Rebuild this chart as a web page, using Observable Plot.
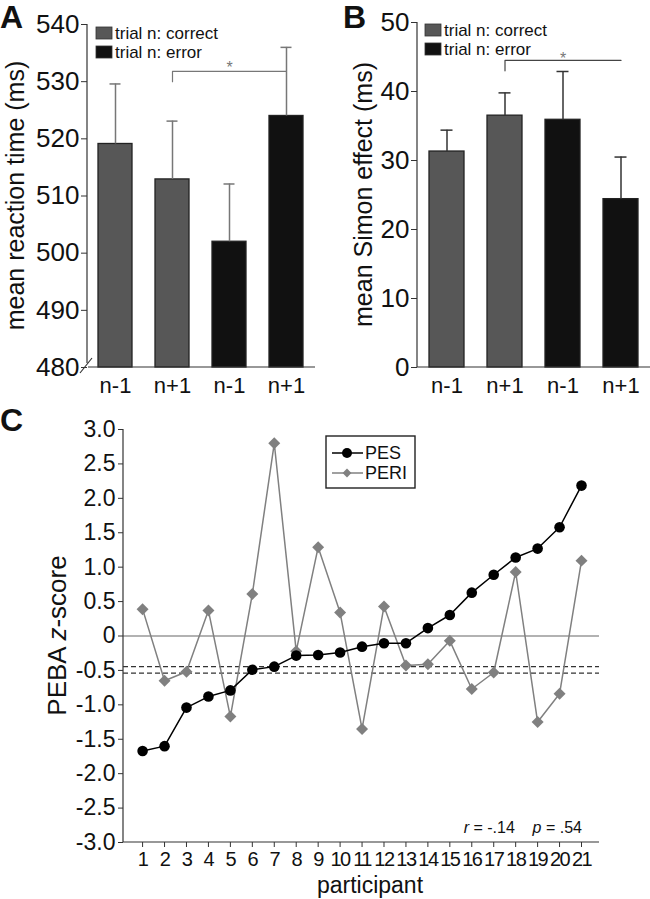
<!DOCTYPE html>
<html><head><meta charset="utf-8">
<script src="https://cdn.jsdelivr.net/npm/d3@7"></script>
<script src="https://cdn.jsdelivr.net/npm/@observablehq/plot@0.6"></script>
<style>
body{margin:0;background:#fff;}
#wrap{position:relative;width:650px;height:899px;font-family:"Liberation Sans",Arial,Helvetica,sans-serif;color:#111;}
.panel{position:absolute;}
.lab{position:absolute;font-weight:bold;font-size:32px;line-height:1;}
</style></head><body>
<div id="wrap">
  <div id="pa" class="panel" style="left:0;top:0"></div>
  <div id="pb" class="panel" style="left:330px;top:0"></div>
  <div id="pc" class="panel" style="left:0;top:400px"></div>
  <div class="lab" style="left:0;top:1px">A</div>
  <div class="lab" style="left:343px;top:1px">B</div>
  <div class="lab" style="left:0;top:404px">C</div>
</div>
<script>
// ---------- data ----------
const conditions = ["c1", "c2", "e1", "e2"];
const conditionLabels = ["n-1", "n+1", "n-1", "n+1"];
const conditionGroups = ["correct", "correct", "error", "error"];
const legendLabels = ["trial n: correct", "trial n: error"];

const rtMeans = [519.1, 512.9, 502.0, 524.0];
const rtErrors = [10.5, 10.2, 10.1, 12.0];
const rtTicks = [480, 490, 500, 510, 520, 530, 540];

const simonMeans = [31.3, 36.5, 35.9, 24.4];
const simonErrors = [3.1, 3.3, 7.0, 6.1];
const simonTicks = [0, 10, 20, 30, 40, 50];

const participants = [1,2,3,4,5,6,7,8,9,10,11,12,13,14,15,16,17,18,19,20,21];
const pes = [-1.67, -1.60, -1.04, -0.88, -0.79, -0.49, -0.445, -0.285, -0.275, -0.24, -0.155, -0.105, -0.105, 0.115, 0.305, 0.63, 0.89, 1.14, 1.27, 1.58, 2.185];
const peri = [0.39, -0.65, -0.52, 0.37, -1.17, 0.61, 2.80, -0.22, 1.29, 0.34, -1.35, 0.43, -0.43, -0.41, -0.07, -0.77, -0.53, 0.93, -1.25, -0.84, 1.095];
const thresholds = [-0.445, -0.54];
const zTicks = [-3, -2.5, -2, -1.5, -1, -0.5, 0, 0.5, 1, 1.5, 2, 2.5, 3];
const seriesNames = ["PES", "PERI"];
const stats = {r: "-.14", p: ".54"};

// significance brackets
const bracketA = {from: "c2", to: "e2", level: 531.8, drop: 530.0, star: "e1", starLevel: 532.4};
const bracketB = {from: "c2", to: "e2", level: 44.5, drop: 43.0, star: "e1", starLevel: 44.8};

// ---------- helpers ----------
const FONT = '"Liberation Sans", Arial, Helvetica, sans-serif';
const groupColors = {correct: "#575757", error: "#111111"};

function rows(means, errs) {
  return conditions.map((c, i) => ({cond: c, mean: means[i], err: errs[i], group: conditionGroups[i]}));
}

function frameLines(opts = {}) {
  return (index, scales, values, dims) => {
    const g = d3.create("svg:g").attr("stroke", "#333").attr("stroke-width", 1.2);
    const l = dims.marginLeft, r = dims.width - dims.marginRight;
    const t = dims.marginTop, b = dims.height - dims.marginBottom;
    g.append("line").attr("x1", l).attr("x2", l).attr("y1", t).attr("y2", opts.break ? b - 4 : b);
    g.append("line").attr("x1", opts.break ? l + 1 : l).attr("x2", r).attr("y1", b).attr("y2", b);
    if (opts.break) {
      g.append("line").attr("x1", l - 7).attr("y1", b + 6).attr("x2", l + 5).attr("y2", b - 9);
    }
    return g.node();
  };
}

function yLabel(parts, cx, size) {
  return (index, scales, values, dims) => {
    const cy = (dims.marginTop + dims.height - dims.marginBottom) / 2;
    const t = d3.create("svg:text")
      .attr("transform", `translate(${cx},${cy}) rotate(-90)`)
      .attr("text-anchor", "middle").attr("dy", "0.35em")
      .attr("font-size", size).attr("fill", "#111").attr("font-family", FONT);
    parts.forEach(p => t.append("tspan").attr("font-style", p.italic ? "italic" : null).text(p.text));
    return t.node();
  };
}

function barLegend(x0, y0) {
  return (index, scales, values, dims) => {
    const g = d3.create("svg:g").attr("font-family", FONT).attr("text-anchor", "start");
    ["correct", "error"].forEach((grp, i) => {
      const x = dims.marginLeft + x0, y = dims.marginTop + y0 + i * 19;
      g.append("rect").attr("x", x).attr("y", y).attr("width", 16).attr("height", 12)
        .attr("fill", scales.color(grp)).attr("stroke", "#333").attr("stroke-width", 0.8);
      g.append("text").attr("x", x + 19).attr("y", y + 6).attr("dy", "0.35em")
        .attr("text-anchor", "start")
        .attr("font-size", 17).attr("fill", "#111").text(legendLabels[i]);
    });
    return g.node();
  };
}

function barPanel(el, data, ticks, bracket, opts) {
  const yMin = ticks[0];
  const yMax = ticks[ticks.length - 1];
  const bracketPts = [
    {cond: bracket.from, v: bracket.drop},
    {cond: bracket.from, v: bracket.level},
    {cond: bracket.to, v: bracket.level}
  ];
  const chart = Plot.plot({
    width: opts.width, height: 400,
    marginLeft: 87, marginRight: opts.marginRight, marginTop: opts.marginTop, marginBottom: 33,
    style: {fontFamily: FONT, background: "transparent", overflow: "visible"},
    x: {domain: conditions, paddingOuter: 0.2, paddingInner: 0.4, axis: null},
    y: {domain: [yMin, yMax], axis: null},
    color: {domain: ["correct", "error"], range: [groupColors.correct, groupColors.error]},
    marks: [
      Plot.barY(data, {x: "cond", y1: () => yMin, y2: "mean", fill: "group", stroke: "#222", strokeWidth: 1.3}),
      Plot.ruleX(data, {x: "cond", y1: "mean", y2: d => d.mean + d.err, stroke: opts.errColor, strokeWidth: 1.5}),
      Plot.tickY(data, {x: "cond", y: d => d.mean + d.err, stroke: opts.errColor, strokeWidth: 1.5, insetLeft: 11.5, insetRight: 11.5}),
      Plot.line(bracketPts, {x: "cond", y: "v", stroke: opts.bracketColor, strokeWidth: 1.2}),
      Plot.text([bracket], {x: "star", y: "starLevel", text: () => "*", fontSize: 16, fill: "#777"}),
      frameLines({break: opts.break}),
      Plot.axisY({ticks, tickSize: 6, tickPadding: 2, fontSize: 26, stroke: "#333", fill: "#111", label: null, tickFormat: d => String(d)}),
      Plot.axisX({tickSize: 0, tickPadding: 10, fontSize: 22, fill: "#111", label: null,
        tickFormat: d => conditionLabels[conditions.indexOf(d)]}),
      yLabel([{text: opts.ylabel}], opts.labelX, 25),
      barLegend(opts.legendX, opts.legendY)
    ]
  });
  el.appendChild(chart);
}

barPanel(document.getElementById("pa"), rows(rtMeans, rtErrors), rtTicks, bracketA,
  {width: 325, marginRight: 10, marginTop: 24, errColor: "#777", bracketColor: "#777", break: true,
   ylabel: "mean reaction time (ms)", labelX: 15, legendX: 9, legendY: 3});
barPanel(document.getElementById("pb"), rows(simonMeans, simonErrors), simonTicks, bracketB,
  {width: 320, marginRight: 0, marginTop: 22, errColor: "#333", bracketColor: "#444", break: false,
   ylabel: "mean Simon effect (ms)", labelX: 33, legendX: 8, legendY: 2});

// ---------- panel C ----------
const cData = participants.map((p, i) => ({p, pes: pes[i], peri: peri[i]}));

function seriesLegend() {
  return (index, scales, values, dims) => {
    const g = d3.create("svg:g").attr("font-family", FONT).attr("text-anchor", "start");
    const x = dims.marginLeft + 203, y = dims.marginTop + 7;
    g.append("rect").attr("x", x).attr("y", y).attr("width", 89).attr("height", 52)
      .attr("fill", "#fff").attr("stroke", "#222").attr("stroke-width", 1.4);
    const specs = [
      {name: seriesNames[0], color: "#000", sym: d3.symbolCircle, size: Math.PI * 25},
      {name: seriesNames[1], color: "#808080", sym: d3.symbolDiamond2, size: Math.PI * 16}
    ];
    specs.forEach((s, i) => {
      const yy = y + 17 + i * 20;
      g.append("line").attr("x1", x + 6).attr("x2", x + 37).attr("y1", yy).attr("y2", yy)
        .attr("stroke", s.color).attr("stroke-width", 1.5);
      g.append("path").attr("transform", `translate(${x + 21},${yy})`)
        .attr("d", d3.symbol(s.sym, s.size)()).attr("fill", s.color);
      g.append("text").attr("x", x + 39).attr("y", yy).attr("dy", "0.35em")
        .attr("text-anchor", "start")
        .attr("font-size", 18).attr("fill", "#111").text(s.name);
    });
    return g.node();
  };
}

function statsNote() {
  return (index, scales, values, dims) => {
    const t = d3.create("svg:text").attr("font-family", FONT).attr("font-size", 16).attr("fill", "#111")
      .attr("text-anchor", "end").attr("style", "white-space:pre")
      .attr("x", dims.width - dims.marginRight - 17).attr("y", dims.height - dims.marginBottom - 9);
    t.append("tspan").attr("font-style", "italic").text("r");
    t.append("tspan").text(" = " + stats.r + "    ");
    t.append("tspan").attr("font-style", "italic").text("p");
    t.append("tspan").text(" = " + stats.p);
    return t.node();
  };
}

function xLabel(text, cx, cy) {
  return (index, scales, values, dims) => d3.create("svg:text")
    .attr("x", cx).attr("y", cy).attr("text-anchor", "middle").attr("dy", "0.35em")
    .attr("font-size", 23).attr("fill", "#111").attr("font-family", FONT).text(text).node();
}

const chartC = Plot.plot({
  width: 650, height: 499,
  marginLeft: 123, marginRight: 51, marginTop: 29, marginBottom: 57,
  style: {fontFamily: FONT, background: "transparent", overflow: "visible"},
  x: {domain: [0.13, 21.82], axis: null},
  y: {domain: [-3, 3], axis: null},
  marks: [
    Plot.ruleY([0], {stroke: "#666", strokeWidth: 1.2}),
    Plot.ruleY(thresholds, {stroke: "#333", strokeWidth: 1.1, strokeDasharray: "5,3"}),
    Plot.line(cData, {x: "p", y: "peri", stroke: "#808080", strokeWidth: 1.5}),
    Plot.dot(cData, {x: "p", y: "peri", symbol: "diamond2", r: 5.4, fill: "#808080"}),
    Plot.line(cData, {x: "p", y: "pes", stroke: "#000", strokeWidth: 1.5}),
    Plot.dot(cData, {x: "p", y: "pes", r: 5.3, fill: "#000"}),
    frameLines(),
    Plot.axisY({ticks: zTicks, tickSize: 5, tickPadding: 3, fontSize: 23, stroke: "#333", fill: "#111", label: null,
      tickFormat: d => d === 0 ? "0" : (d < 0 ? "-" : "") + Math.abs(d).toFixed(1)}),
    Plot.axisX({ticks: participants, tickSize: 5, tickPadding: 4, fontSize: 20, stroke: "#333", fill: "#111", label: null,
      tickFormat: d => String(d)}),
    yLabel([{text: "PEBA "}, {text: "z", italic: true}, {text: "-score"}], 57, 26),
    xLabel("participant", 370, 485),
    seriesLegend(),
    statsNote()
  ]
});
document.getElementById("pc").appendChild(chartC);
// condensed two-digit participant labels as in the reference
d3.select(chartC).selectAll("[aria-label='x-axis tick label'] text").attr("letter-spacing", "-1.5px");
</script>
</body></html>
